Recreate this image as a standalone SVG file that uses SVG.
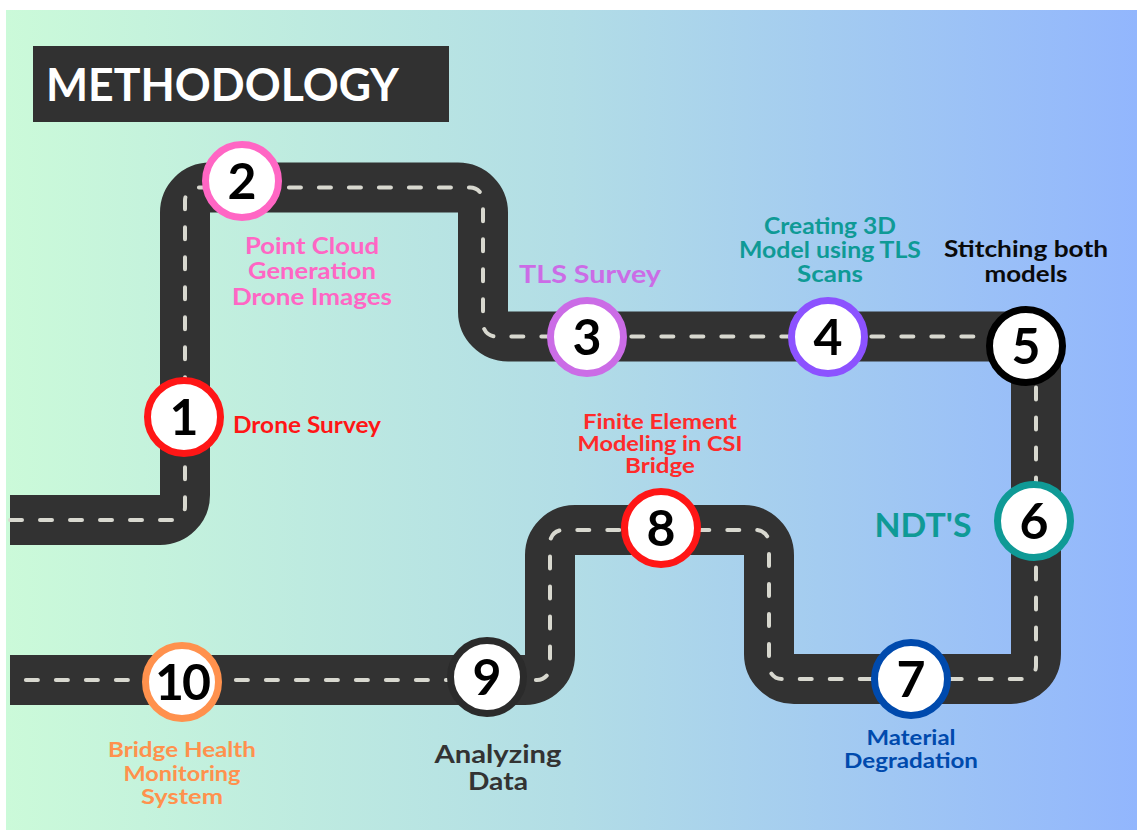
<svg xmlns="http://www.w3.org/2000/svg" width="1137" height="832" viewBox="0 0 1137 832">
  <defs>
    <linearGradient id="bg" x1="0" y1="0" x2="1" y2="0">
      <stop offset="0" stop-color="#cbfad9"/>
      <stop offset="0.5" stop-color="#b2dde6"/>
      <stop offset="1" stop-color="#92b6fd"/>
    </linearGradient>
    <style>
      .road { fill: none; stroke: #323232; stroke-width: 50; stroke-linejoin: miter; }
      .lane { fill: none; stroke: #d8d8cf; stroke-width: 4; stroke-dasharray: 12 18; stroke-linecap: round; }
      .ring { fill: #ffffff; stroke-width: 7; }
      .num { font-family: Lato, "Liberation Sans", sans-serif; font-weight: 700; font-size: 50px; fill: #000000; text-anchor: middle; }
      .lbl { font-family: Lato, "Liberation Sans", sans-serif; font-weight: 700; text-anchor: middle; }
    </style>
  </defs>

  <!-- backdrop -->
  <rect x="0" y="0" width="1137" height="832" fill="#ffffff"/>
  <rect x="6" y="10" width="1131" height="820" fill="url(#bg)"/>

  <!-- title banner -->
  <g id="title">
    <rect x="33" y="46" width="416" height="76" fill="#313131"/>
    <text x="46" y="101" font-family="Lato, 'Liberation Sans', sans-serif" font-weight="700" font-size="46" fill="#ffffff" textLength="353" lengthAdjust="spacingAndGlyphs">METHODOLOGY</text>
  </g>

  <!-- winding road with its dashed lane line -->
  <g id="connectors">
    <path class="road" d="M 10 520 H 160 A 25 25 0 0 0 185 495 V 212.5 A 25 25 0 0 1 210 187.5 H 458 A 25 25 0 0 1 483 212.5 V 311.5 A 25 25 0 0 0 508 336.5 H 1011 A 25 25 0 0 1 1036 361.5 V 654 A 25 25 0 0 1 1011 679 H 794 A 25 25 0 0 1 769 654 V 555 A 25 25 0 0 0 744 530 H 575 A 25 25 0 0 0 550 555 V 655 A 25 25 0 0 1 525 680 H 10"/>
    <path class="lane" d="M 10 520 H 172 A 13 13 0 0 0 185 507 V 200.5 A 13 13 0 0 1 198 187.5 H 470 A 13 13 0 0 1 483 200.5 V 323.5 A 13 13 0 0 0 496 336.5 H 1023 A 13 13 0 0 1 1036 349.5 V 666 A 13 13 0 0 1 1023 679 H 782 A 13 13 0 0 1 769 666 V 543 A 13 13 0 0 0 756 530 H 563 A 13 13 0 0 0 550 543 V 667 A 13 13 0 0 1 537 680 H 10"/>
  </g>

  <g id="step1">
    <circle class="ring" cx="184" cy="417" r="36.5" stroke="#ff1616"/>
    <text class="num" x="184" y="435">1</text>
    <text class="lbl" x="307" y="433" font-size="23" fill="#ff1616" textLength="148" lengthAdjust="spacingAndGlyphs">Drone Survey</text>
  </g>

  <g id="step2">
    <circle class="ring" cx="242" cy="181" r="36.5" stroke="#ff66c4"/>
    <text class="num" x="242" y="199">2</text>
    <g class="lbl" font-size="23.5" fill="#ff66c4">
      <text x="312" y="254" textLength="134" lengthAdjust="spacingAndGlyphs">Point Cloud</text>
      <text x="312" y="279" textLength="128" lengthAdjust="spacingAndGlyphs">Generation</text>
      <text x="312" y="305" textLength="160" lengthAdjust="spacingAndGlyphs">Drone Images</text>
    </g>
  </g>

  <g id="step3">
    <circle class="ring" cx="587" cy="337" r="36.5" stroke="#cb6ce6"/>
    <text class="num" x="587" y="355">3</text>
    <text class="lbl" x="590" y="283" font-size="24" fill="#cb6ce6" textLength="142" lengthAdjust="spacingAndGlyphs">TLS Survey</text>
  </g>

  <g id="step4">
    <circle class="ring" cx="828" cy="337" r="36.5" stroke="#8c52ff"/>
    <text class="num" x="828" y="355">4</text>
    <g class="lbl" font-size="22" fill="#0f9a96">
      <text x="830" y="234" textLength="132" lengthAdjust="spacingAndGlyphs">Creating 3D</text>
      <text x="830" y="258" textLength="182" lengthAdjust="spacingAndGlyphs">Model using TLS</text>
      <text x="830" y="282" textLength="66" lengthAdjust="spacingAndGlyphs">Scans</text>
    </g>
  </g>

  <g id="step5">
    <circle class="ring" cx="1026" cy="346" r="36.5" stroke="#000000"/>
    <text class="num" x="1026" y="364">5</text>
    <g class="lbl" font-size="22.5" fill="#0a0a0a">
      <text x="1026" y="257" textLength="164" lengthAdjust="spacingAndGlyphs">Stitching both</text>
      <text x="1026" y="282" textLength="83" lengthAdjust="spacingAndGlyphs">models</text>
    </g>
  </g>

  <g id="step6">
    <circle class="ring" cx="1034" cy="521" r="36.5" stroke="#0f9a96"/>
    <text class="num" x="1034" y="539">6</text>
    <text class="lbl" x="923" y="537" font-size="32" fill="#0f9a96" textLength="97" lengthAdjust="spacingAndGlyphs">NDT'S</text>
  </g>

  <g id="step7">
    <circle class="ring" cx="911" cy="679" r="36.5" stroke="#004aad"/>
    <text class="num" x="911" y="697">7</text>
    <g class="lbl" font-size="21.5" fill="#004aad">
      <text x="911" y="745" textLength="89" lengthAdjust="spacingAndGlyphs">Material</text>
      <text x="911" y="768" textLength="134" lengthAdjust="spacingAndGlyphs">Degradation</text>
    </g>
  </g>

  <g id="step8">
    <circle class="ring" cx="661" cy="528" r="36.5" stroke="#ff1616"/>
    <text class="num" x="661" y="546">8</text>
    <g class="lbl" font-size="21.5" fill="#ff2a2a">
      <text x="660" y="429" textLength="154" lengthAdjust="spacingAndGlyphs">Finite Element</text>
      <text x="660" y="451" textLength="165" lengthAdjust="spacingAndGlyphs">Modeling in CSI</text>
      <text x="660" y="473" textLength="70" lengthAdjust="spacingAndGlyphs">Bridge</text>
    </g>
  </g>

  <g id="step9">
    <circle class="ring" cx="487" cy="677" r="36.5" stroke="#2b2b2b"/>
    <text class="num" x="487" y="695">9</text>
    <g class="lbl" font-size="25" fill="#333333">
      <text x="498" y="763" textLength="127" lengthAdjust="spacingAndGlyphs">Analyzing</text>
      <text x="498" y="790" textLength="60" lengthAdjust="spacingAndGlyphs">Data</text>
    </g>
  </g>

  <g id="step10">
    <circle class="ring" cx="182" cy="682" r="36.5" stroke="#ff914d"/>
    <text class="num" x="182" y="700" letter-spacing="-2">10</text>
    <g class="lbl" font-size="21.5" fill="#ff914d">
      <text x="182" y="757" textLength="148" lengthAdjust="spacingAndGlyphs">Bridge Health</text>
      <text x="182" y="781" textLength="117" lengthAdjust="spacingAndGlyphs">Monitoring</text>
      <text x="182" y="804" textLength="82" lengthAdjust="spacingAndGlyphs">System</text>
    </g>
  </g>
</svg>
